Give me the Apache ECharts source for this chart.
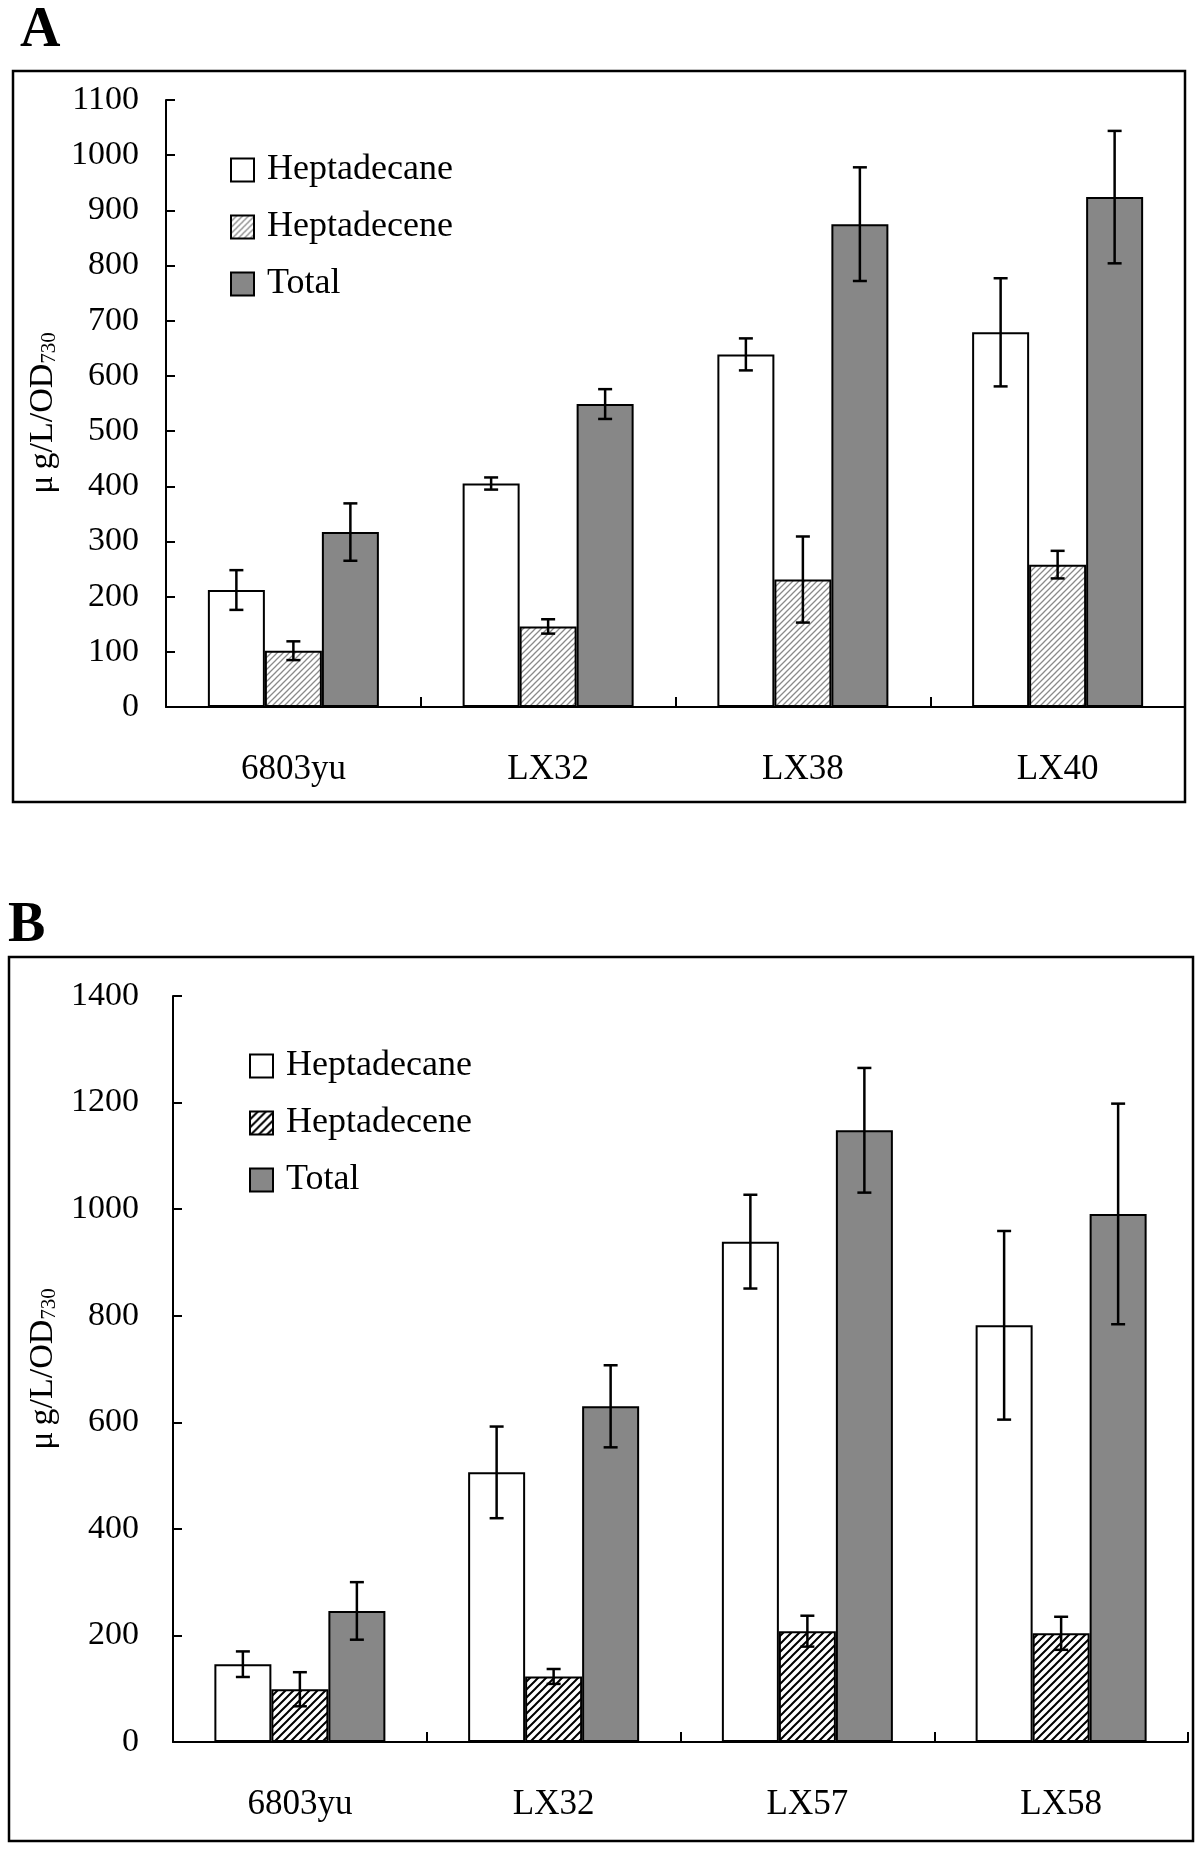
<!DOCTYPE html>
<html>
<head>
<meta charset="utf-8">
<script src="https://cdn.jsdelivr.net/npm/echarts@6/dist/echarts.min.js"></script>
<style>
html,body{margin:0;padding:0;background:#fff;}
#chart{width:1200px;height:1849px;}
</style>
</head>
<body>
<div id="chart"></div>
<script>
// ---------- Panel A data ----------
const catsA = ['6803yu', 'LX32', 'LX38', 'LX40'];
const heptadecaneA = [212, 405, 639, 679];
const heptadecaneErrA = [36, 11, 29, 98];
const heptadeceneA = [102, 146, 231, 258];
const heptadeceneErrA = [17, 13, 78, 25];
const totalA = [317, 549, 875, 924];
const totalErrA = [52, 27, 103, 120];
const yTicksA = {min: 0, max: 1100, interval: 100};

// ---------- Panel B data ----------
const catsB = ['6803yu', 'LX32', 'LX57', 'LX58'];
const heptadecaneB = [146, 506, 939, 782];
const heptadecaneErrB = [24, 86, 88, 177];
const heptadeceneB = [99, 123, 208, 204];
const heptadeceneErrB = [32, 14, 29, 31];
const totalB = [246, 630, 1148, 991];
const totalErrB = [54, 77, 117, 207];
const yTicksB = {min: 0, max: 1400, interval: 200};

const seriesNames = ['Heptadecane', 'Heptadecene', 'Total'];

const FONT = 'Liberation Serif';
const BAR_W = 57;

function hatch(bg, line, s, lw) {
  const c = document.createElement('canvas');
  c.width = s; c.height = s;
  const ctx = c.getContext('2d');
  ctx.fillStyle = bg; ctx.fillRect(0, 0, s, s);
  ctx.strokeStyle = line; ctx.lineWidth = lw;
  ctx.beginPath();
  ctx.moveTo(-1, s + 1); ctx.lineTo(s + 1, -1);
  ctx.moveTo(-1, 1); ctx.lineTo(1, -1);
  ctx.moveTo(s - 1, s + 1); ctx.lineTo(s + 1, s - 1);
  ctx.stroke();
  return {image: c, repeat: 'repeat'};
}
const hatchA = hatch('#ffffff', '#8a8a8a', 6, 1.3);
const hatchB = hatch('#ffffff', '#000000', 8, 2);

const colorsA = ['#ffffff', hatchA, '#878787'];
const colorsB = ['#ffffff', hatchB, '#878787'];

function barSeries(name, data, color, gi) {
  return {
    type: 'bar', name: name, data: data,
    xAxisIndex: gi, yAxisIndex: gi,
    barWidth: BAR_W, barGap: '0%',
    itemStyle: {color: color, borderColor: '#000', borderWidth: 2},
    emphasis: {disabled: true},
    z: 2
  };
}

function errSeries(vals, errs, k, gi) {
  const data = vals.map((v, i) => [i, v - errs[i], v + errs[i]]);
  return {
    type: 'custom', xAxisIndex: gi, yAxisIndex: gi,
    data: data, z: 5, silent: true,
    encode: {x: 0, y: [1, 2]},
    renderItem: function (params, api) {
      const hi = api.coord([api.value(0), api.value(2)]);
      const lo = api.coord([api.value(0), api.value(1)]);
      const x = hi[0] + (k - 1) * BAR_W;
      const cw = 7;
      const st = {stroke: '#000', lineWidth: 2.5};
      return {
        type: 'group',
        children: [
          {type: 'line', shape: {x1: x, y1: hi[1], x2: x, y2: lo[1]}, style: st},
          {type: 'line', shape: {x1: x - cw, y1: hi[1], x2: x + cw, y2: hi[1]}, style: st},
          {type: 'line', shape: {x1: x - cw, y1: lo[1], x2: x + cw, y2: lo[1]}, style: st}
        ]
      };
    }
  };
}

function xAxisDef(cats, gi) {
  return {
    type: 'category', gridIndex: gi, data: cats,
    axisLine: {lineStyle: {color: '#000', width: 2}},
    axisTick: {show: true, inside: true, length: 10, lineStyle: {color: '#000', width: 2}},
    axisLabel: {color: '#000', fontFamily: FONT, fontSize: 35, margin: 45}
  };
}
function yAxisDef(t, gi, margin, nameGap, endPad) {
  return {
    type: 'value', gridIndex: gi, min: t.min, max: t.max, interval: t.interval,
    splitLine: {show: false},
    axisLine: {show: true, lineStyle: {color: '#000', width: 2}},
    axisTick: {show: true, inside: true, length: 9, lineStyle: {color: '#000', width: 2}},
    axisLabel: {color: '#000', fontFamily: FONT, fontSize: 34, margin: margin,
      formatter: function (v) { return String(v); }},
    name: '{a|μ}{b|g/L/OD}{c|730}',
    nameLocation: 'middle', nameRotate: 90, nameGap: nameGap,
    nameTextStyle: {
      color: '#000', fontFamily: FONT,
      rich: {
        a: {fontSize: 34, fontFamily: FONT, color: '#000', padding: [0, 6, 0, 0]},
        b: {fontSize: 34, fontFamily: FONT, color: '#000'},
        c: {fontSize: 21, fontFamily: FONT, color: '#000', verticalAlign: 'bottom', padding: [0, endPad, 0, 0]}
      }
    }
  };
}

function legendDef(left, top, gi, colors) {
  return {
    orient: 'vertical', left: left, top: top, padding: 0,
    icon: 'rect', itemWidth: 23, itemHeight: 23, itemGap: 21,
    selectedMode: false,
    textStyle: {color: '#000', fontFamily: FONT, fontSize: 36, lineHeight: 36, padding: [0, 0, 0, 8]},
    data: seriesNames.map((n, i) => ({name: n, itemStyle: {color: colors[i], borderColor: '#000', borderWidth: 2}}))
  };
}

const option = {
  backgroundColor: '#fff',
  animation: false,
  grid: [
    {left: 166, top: 100, width: 1019, height: 607},
    {left: 173, top: 996, width: 1015, height: 746}
  ],
  xAxis: [xAxisDef(catsA, 0), xAxisDef(catsB, 1)],
  yAxis: [yAxisDef(yTicksA, 0, 27, 72, 19), yAxisDef(yTicksB, 1, 34, 94, 0)],
  legend: [legendDef(230, 152, 0, colorsA), legendDef(249, 1048, 1, colorsB)],
  series: [
    barSeries(seriesNames[0], heptadecaneA, colorsA[0], 0),
    barSeries(seriesNames[1], heptadeceneA, colorsA[1], 0),
    barSeries(seriesNames[2], totalA, colorsA[2], 0),
    errSeries(heptadecaneA, heptadecaneErrA, 0, 0),
    errSeries(heptadeceneA, heptadeceneErrA, 1, 0),
    errSeries(totalA, totalErrA, 2, 0),
    barSeries(seriesNames[0], heptadecaneB, colorsB[0], 1),
    barSeries(seriesNames[1], heptadeceneB, colorsB[1], 1),
    barSeries(seriesNames[2], totalB, colorsB[2], 1),
    errSeries(heptadecaneB, heptadecaneErrB, 0, 1),
    errSeries(heptadeceneB, heptadeceneErrB, 1, 1),
    errSeries(totalB, totalErrB, 2, 1)
  ],
  graphic: [
    {type: 'rect', shape: {x: 13, y: 71, width: 1172, height: 731}, style: {fill: null, stroke: '#000', lineWidth: 2.5}, z: 0, silent: true},
    {type: 'rect', shape: {x: 9, y: 957, width: 1184, height: 884}, style: {fill: null, stroke: '#000', lineWidth: 2.5}, z: 0, silent: true},
    {type: 'text', x: 20, y: 32, style: {text: 'A', font: 'bold 56px "Liberation Serif"', fill: '#000', textVerticalAlign: 'middle'}, silent: true},
    {type: 'text', x: 8, y: 927, style: {text: 'B', font: 'bold 56px "Liberation Serif"', fill: '#000', textVerticalAlign: 'middle'}, silent: true}
  ]
};

const chart = echarts.init(document.getElementById('chart'), null, {renderer: 'canvas'});
chart.setOption(option);
</script>
</body>
</html>
